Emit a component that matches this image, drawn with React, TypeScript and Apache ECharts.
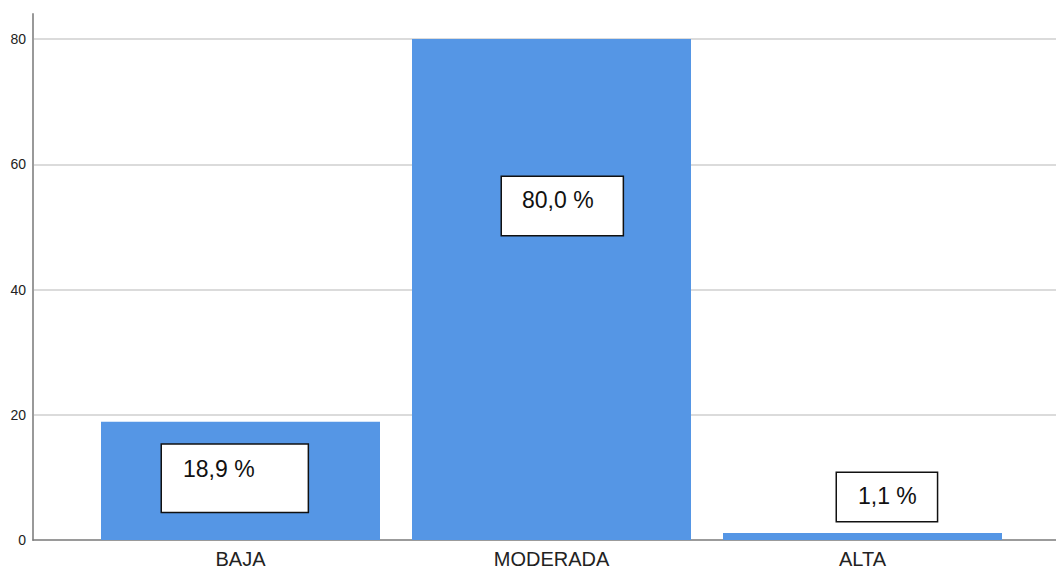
import React, { useEffect, useRef } from "react";
import * as echarts from "echarts";

const categories = ["BAJA", "MODERADA", "ALTA"];
const values = [18.9, 80.0, 1.1];
const yTicks = [0, 20, 40, 60, 80];

// label box placement (style only), relative to each bar's rectangle
const labelStyles = [
  { position: [61, 23], padding: [12, 53, 31, 21] },
  { position: [90, 138], padding: [11, 29, 23, 20] },
  { position: [114, -60], padding: [11, 20, 13, 21] },
];

const FONT = "'Liberation Sans', Arial, sans-serif";

export default function App() {
  const ref = useRef<HTMLDivElement>(null);
  useEffect(() => {
    if (!ref.current) return;
    const chart = echarts.init(ref.current, undefined, { renderer: "svg" });
    const common = { top: 14, bottom: 31 };
    chart.setOption({
      animation: false,
      backgroundColor: "#ffffff",
      grid: [
        { ...common, left: 33, right: 0, containLabel: false },
        { ...common, left: 85, right: 38, containLabel: false },
      ],
      xAxis: [
        {
          type: "category",
          gridIndex: 0,
          data: [""],
          axisLine: { show: true, lineStyle: { color: "#7a7a7a", width: 1.5 } },
          axisTick: { show: false },
          axisLabel: { show: false },
        },
        {
          type: "category",
          gridIndex: 1,
          data: categories,
          axisLine: { show: false },
          axisTick: { show: false },
          axisLabel: {
            margin: 9,
            fontSize: 20,
            fontFamily: FONT,
            color: "#222",
          },
        },
      ],
      yAxis: [
        {
          type: "value",
          gridIndex: 0,
          min: 0,
          max: 84,
          interval: 20,
          axisLine: { show: true, lineStyle: { color: "#999", width: 2 } },
          axisTick: { show: false },
          axisLabel: {
            showMaxLabel: false,
            margin: 7,
            fontSize: 14,
            fontFamily: FONT,
            color: "#222",
            formatter: (v: number) => (yTicks.includes(v) ? String(v) : ""),
          },
          splitLine: {
            show: true,
            showMinLine: false,
            showMaxLine: false,
            lineStyle: { color: "#cfcfcf", width: 1.5 },
          },
        },
        {
          type: "value",
          gridIndex: 1,
          min: 0,
          max: 84,
          interval: 20,
          show: false,
          splitLine: { show: false },
        },
      ],
      series: [
        {
          type: "bar",
          xAxisIndex: 1,
          yAxisIndex: 1,
          barWidth: 279,
          itemStyle: { color: "#5596E5" },
          data: values.map((v, i) => ({
            value: v,
            label: {
              show: true,
              position: labelStyles[i].position,
              padding: labelStyles[i].padding,
              align: "left",
              verticalAlign: "top",
              lineHeight: 24,
              fontSize: 23,
              fontFamily: FONT,
              color: "#111",
              backgroundColor: "#ffffff",
              borderColor: "#111",
              borderWidth: 1.5,
              formatter: () => v.toFixed(1).replace(".", ",") + " %",
            },
          })),
        },
      ],
    });
    return () => chart.dispose();
  }, []);
  return (
    <div
      ref={ref}
      style={{ position: "fixed", left: 0, top: 0, width: 1056, height: 571 }}
    />
  );
}
